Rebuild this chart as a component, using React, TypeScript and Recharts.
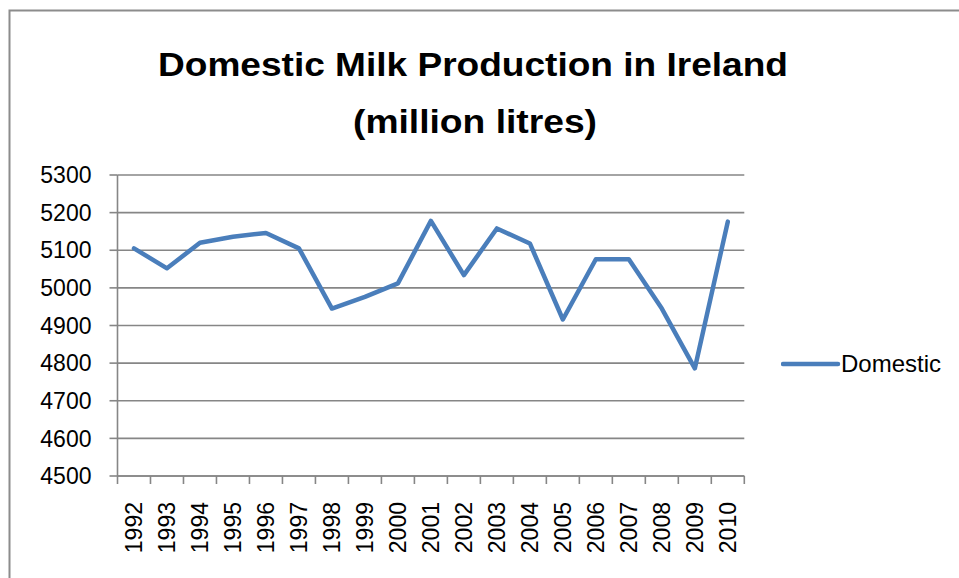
import React from 'react';
import { LineChart, Line, XAxis, YAxis, CartesianGrid, Legend } from 'recharts';

const years = ['1992','1993','1994','1995','1996','1997','1998','1999','2000','2001','2002','2003','2004','2005','2006','2007','2008','2009','2010'];
const domestic = [5105, 5052, 5120, 5136, 5146, 5105, 4945, 4976, 5012, 5178, 5034, 5158, 5118, 4916, 5076, 5076, 4945, 4786, 5176];
const yTicks = [4500, 4600, 4700, 4800, 4900, 5000, 5100, 5200, 5300];
const seriesName = 'Domestic';
const titleLines = ['Domestic Milk Production in Ireland', '(million litres)'];

const data = years.map((year, i) => ({ x: i + 0.5, year, value: domestic[i] }));
const boundaryTicks = Array.from({ length: years.length + 1 }, (_, i) => i);

const FONT = '"Liberation Sans", Arial, sans-serif';
const GRID = '#868686';
const LINE = '#4A7EBB';

const YearTick = (props: any) => {
  const { x, y, payload, width } = props;
  const i = payload.value;
  if (i >= years.length) return null;
  const half = (Number(width) || 626.8) / years.length / 2;
  const cx = x + half;
  return (
    <text
      x={cx}
      y={y}
      transform={`rotate(-90, ${cx}, ${y})`}
      textAnchor="end"
      dominantBaseline="central"
      fontSize={23}
      fontFamily={FONT}
      fill="#000"
    >
      {years[i]}
    </text>
  );
};

const LegendContent = () => (
  <div style={{ display: 'flex', alignItems: 'center', fontFamily: FONT, fontSize: 24, color: '#000' }}>
    <svg width={60} height={10} style={{ display: 'block' }}>
      <line x1={2} y1={5} x2={57} y2={5} stroke={LINE} strokeWidth={4.5} strokeLinecap="round" />
    </svg>
    <span style={{ whiteSpace: 'nowrap' }}>{seriesName}</span>
  </div>
);

export default function App() {
  return (
    <div style={{ position: 'absolute', left: 0, top: 0, width: 959, height: 578, background: '#fff', overflow: 'hidden' }}>
      <LineChart
        width={959}
        height={578}
        data={data}
        margin={{ top: 175, right: 214.7, left: 17.5, bottom: 12 }}
      >
        <CartesianGrid vertical={false} stroke={GRID} strokeWidth={1.6} />
        <XAxis
          dataKey="x"
          type="number"
          domain={[0, years.length]}
          ticks={boundaryTicks}
          interval={0}
          height={90}
          tick={<YearTick />}
          tickSize={8}
          tickMargin={18}
          tickLine={{ stroke: GRID, strokeWidth: 1.6 }}
          axisLine={{ stroke: GRID, strokeWidth: 1.6 }}
        />
        <YAxis
          type="number"
          domain={[4500, 5300]}
          ticks={yTicks}
          interval={0}
          width={100}
          tickSize={8}
          tickMargin={18}
          tick={{ fill: '#000', fontSize: 23, fontFamily: FONT }}
          tickLine={{ stroke: GRID, strokeWidth: 1.6 }}
          axisLine={{ stroke: GRID, strokeWidth: 1.6 }}
        />
        <Legend
          layout="horizontal"
          verticalAlign="middle"
          align="center"
          content={<LegendContent />}
          wrapperStyle={{ left: 781, top: 350, width: 'auto' }}
        />
        <Line
          type="linear"
          dataKey="value"
          name={seriesName}
          stroke={LINE}
          strokeWidth={4.5}
          strokeLinejoin="round"
          strokeLinecap="round"
          dot={false}
          activeDot={false}
          isAnimationActive={false}
        />
      </LineChart>
      <svg width={959} height={578} style={{ position: 'absolute', left: 0, top: 0, pointerEvents: 'none' }}>
        <rect x={9.5} y={10.5} width={1000} height={700} fill="none" stroke="#8c8c8c" strokeWidth={2} />
        <text x={473} y={76} textAnchor="middle" fontFamily={FONT} fontWeight="bold" fontSize={33} fill="#000" textLength={630} lengthAdjust="spacingAndGlyphs">
          {titleLines[0]}
        </text>
        <text x={475} y={133} textAnchor="middle" fontFamily={FONT} fontWeight="bold" fontSize={34} fill="#000" textLength={244} lengthAdjust="spacingAndGlyphs">
          {titleLines[1]}
        </text>
      </svg>
    </div>
  );
}
